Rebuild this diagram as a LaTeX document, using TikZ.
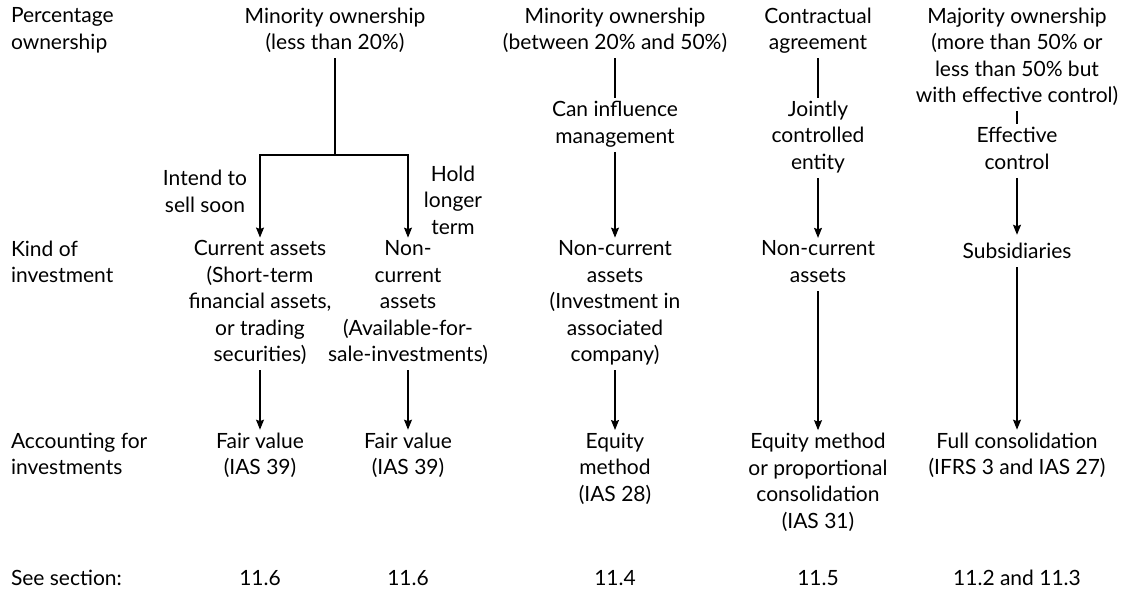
\documentclass[tikz,border=0pt]{standalone}
\usepackage{fontspec}
\setmainfont{Lato}
\usetikzlibrary{arrows.meta}
\begin{document}
\begin{tikzpicture}[x=1pt,y=-1pt,
  % every text block: centred lines, 26.5pt apart, box symmetric about the line centres
  txt/.style={font=\fontsize{21}{26.5}\selectfont, align=center, inner sep=0pt, outer sep=3pt,
    execute at begin node={\rule{0pt}{20.75pt}},
    execute at end node={\rule[-5.75pt]{0pt}{0pt}}},
  rowlabel/.style={txt, align=left, anchor=west},
  link/.style={line width=1.1pt},
  arrowlink/.style={link, -{Stealth[length=10pt,width=8pt,inset=1.5pt]}}]
\useasboundingbox (0,0) rectangle (1131,590);

% row labels
\node[rowlabel] (rpct)  at (8,31.5)  {Percentage\\ownership};
\node[rowlabel] (rkind) at (8,264.5) {Kind of\\investment};
\node[rowlabel] (racct) at (8,456.5) {Accounting for\\investments};
\node[rowlabel] (rsee)  at (8,578)   {See section:};

% percentage ownership
\node[txt] (top1) at (335,31.5) {Minority ownership\\(less than 20\%)};
\node[txt] (top3) at (615,31.5) {Minority ownership\\(between 20\% and 50\%)};
\node[txt] (top4) at (818,31.5) {Contractual\\agreement};
\node[txt] (top5) at (1017,58)  {Majority ownership\\(more than 50\% or\\less than 50\% but\\with effective control)};

% intermediate conditions
\node[txt] (mid3) at (615,125)  {Can influence\\management};
\node[txt] (mid4) at (818,138)  {Jointly\\controlled\\entity};
\node[txt] (mid5) at (1017,151) {Effective\\control};
\node[txt] (lab1) at (205,194)  {Intend to\\sell soon};
\node[txt] (lab2) at (453,203)  {Hold\\longer\\term};

% kind of investment
\node[txt] (k1) at (260,304)  {Current assets\\(Short-term\\financial assets,\\or trading\\securities)};
\node[txt] (k2) at (408,304)  {Non-\\current\\assets\\(Available-for-\\sale-investments)};
\node[txt] (k3) at (615,304)  {Non-current\\assets\\(Investment in\\associated\\company)};
\node[txt] (k4) at (818,264.5){Non-current\\assets};
\node[txt] (k5) at (1017,251) {Subsidiaries};

% accounting for investments
\node[txt] (a1) at (260,456.5) {Fair value\\(IAS 39)};
\node[txt] (a2) at (408,456.5) {Fair value\\(IAS 39)};
\node[txt] (a3) at (615,470)   {Equity\\method\\(IAS 28)};
\node[txt] (a4) at (818,483.5) {Equity method\\or proportional\\consolidation\\(IAS 31)};
\node[txt] (a5) at (1017,456.5){Full consolidation\\(IFRS 3 and IAS 27)};

% sections
\node[txt] (s1) at (260,578)  {11.6};
\node[txt] (s2) at (408,578)  {11.6};
\node[txt] (s3) at (615,578)  {11.4};
\node[txt] (s4) at (818,578)  {11.5};
\node[txt] (s5) at (1017,578) {11.2 and 11.3};

% connectors
\coordinate (fork) at (335,155);
\draw[link] (top1.south) -- (fork);
\draw[arrowlink] (fork) -| (k1.north);
\draw[arrowlink] (fork) -| (k2.north);
\draw[arrowlink] (k1) -- (a1);
\draw[arrowlink] (k2) -- (a2);

\draw[link] (top3) -- (mid3);
\draw[arrowlink] (mid3) -- (k3);
\draw[arrowlink] (k3) -- (a3);

\draw[link] (top4) -- (mid4);
\draw[arrowlink] (mid4) -- (k4);
\draw[arrowlink] (k4) -- (a4);

\draw[link] (top5) -- (mid5);
\draw[arrowlink] (mid5) -- (k5);
\draw[arrowlink] (k5) -- (a5);
\end{tikzpicture}
\end{document}
